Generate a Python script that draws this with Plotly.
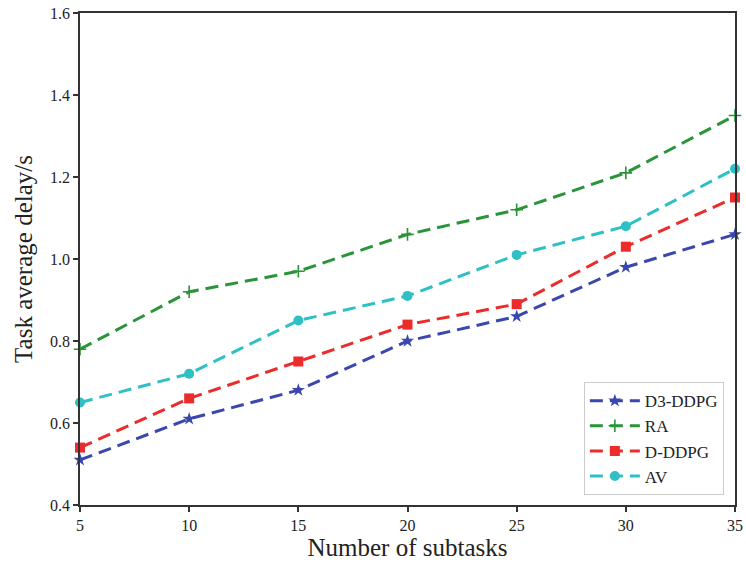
import plotly.graph_objects as go

subtasks = [5, 10, 15, 20, 25, 30, 35]
d3_ddpg = [0.51, 0.61, 0.68, 0.80, 0.86, 0.98, 1.06]
ra = [0.78, 0.92, 0.97, 1.06, 1.12, 1.21, 1.35]
d_ddpg = [0.54, 0.66, 0.75, 0.84, 0.89, 1.03, 1.15]
av = [0.65, 0.72, 0.85, 0.91, 1.01, 1.08, 1.22]

series = [
    ("D3-DDPG", d3_ddpg, "#3a48ad", "star", 10),
    ("RA", ra, "#2a9438", "cross-thin", 9),
    ("D-DDPG", d_ddpg, "#ec2b2b", "square", 10),
    ("AV", av, "#2fc0c6", "circle", 10),
]

fig = go.Figure()
for name, vals, color, sym, size in series:
    fig.add_trace(go.Scatter(
        x=subtasks, y=vals, name=name, mode="lines+markers",
        line=dict(color=color, width=3, dash="13px,7px"),
        marker=dict(symbol=sym, size=size, color=color,
                    line=dict(color=color, width=1.6 if sym == "cross-thin" else 0)),
        cliponaxis=False,
    ))

axis_common = dict(
    showline=True, linecolor="#333333", linewidth=1.5, mirror=True,
    ticks="outside", ticklen=5, tickwidth=1.5, tickcolor="#333333",
    showgrid=False, zeroline=False, automargin=False,
    tickfont=dict(family="Liberation Serif", size=16, color="#222222"),
)

fig.update_layout(
    width=746, height=566,
    margin=dict(l=80, r=11, t=13, b=61),
    paper_bgcolor="white", plot_bgcolor="white",
    font=dict(family="Liberation Serif", color="#222222"),
    xaxis=dict(range=[5, 35], tickvals=subtasks,
               title=dict(text="Number of subtasks", font=dict(size=25), standoff=6),
               **axis_common),
    yaxis=dict(range=[0.4, 1.6], tickvals=[0.4, 0.6, 0.8, 1.0, 1.2, 1.4, 1.6],
               tickformat=".1f",
               title=dict(text="Task average delay/s", font=dict(size=25), standoff=10),
               **axis_common),
    legend=dict(x=0.983, y=0.02, xanchor="right", yanchor="bottom",
                bgcolor="white", bordercolor="#cccccc", borderwidth=1,
                font=dict(family="Liberation Serif", size=17),
                itemwidth=50, tracegroupgap=2),
    showlegend=True,
)

fig.write_html("out.html", config={"displayModeBar": False},
               post_script="document.body.style.margin='0';document.body.style.overflow='hidden';")
